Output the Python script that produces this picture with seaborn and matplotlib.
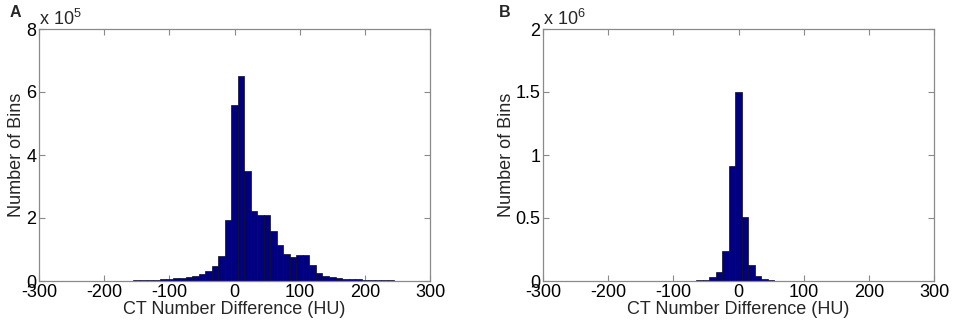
import numpy as np
import pandas as pd
import matplotlib
matplotlib.use("Agg")
import matplotlib.pyplot as plt
import seaborn as sns

# ---------------- data (bin centres in HU, counts) ----------------
centers_a = [-200, -190, -180, -170, -160, -150, -140, -130, -120, -110,
             -100, -90, -80, -70, -60, -50, -40, -30, -20, -10,
             0, 10, 20, 30, 40, 50, 60, 70, 80, 90,
             100, 110, 120, 130, 140, 150, 160, 170, 180, 190,
             200, 210, 220, 230, 240, 250]
counts_a = [400, 500, 600, 800, 1000, 2000, 2500, 3000, 4000, 5000,
            6500, 8000, 10000, 13000, 16000, 22000, 32000, 47000, 78000, 193000,
            560000, 651000, 349000, 222000, 209000, 209000, 159000, 114000, 87000, 76000,
            82000, 84000, 52000, 25000, 16000, 12000, 9000, 7000, 6000, 5000,
            4500, 4000, 3500, 2500, 2000, 1500]

centers_b = [-70, -60, -50, -40, -30, -20, -10, 0, 10, 20, 30, 40, 50, 60]
counts_b = [1500, 5000, 11000, 32000, 72000, 238000, 914000, 1500000,
            511000, 130000, 42000, 13000, 4000, 1500]

xticks = [-300, -200, -100, 0, 100, 200, 300]
yticks_a = [0, 2e5, 4e5, 6e5, 8e5]
ytick_labels_a = ["0", "2", "4", "6", "8"]
yticks_b = [0, 0.5e6, 1e6, 1.5e6, 2e6]
ytick_labels_b = ["0", "0.5", "1", "1.5", "2"]
panel_labels = ["A", "B"]
exponents = ["5", "6"]
xlabel = "CT Number Difference (HU)"
ylabel = "Number of Bins"

# ---------------- style ----------------
sns.set_theme(style="white")
plt.rcParams["font.family"] = ["Liberation Sans", "DejaVu Sans"]
plt.rcParams["mathtext.fontset"] = "custom"
plt.rcParams["mathtext.rm"] = "Liberation Sans"
plt.rcParams["mathtext.it"] = "Liberation Sans"
FS = 13
SPINE = "#8a8a8a"
BAR = "#000080"

fig = plt.figure(figsize=(9.57, 3.24), dpi=100)
H = 324.0
ax_a = fig.add_axes([39 / 957, 1 - 281 / H, (430 - 39) / 957, (281 - 29) / H])
ax_b = fig.add_axes([543 / 957, 1 - 281 / H, (934 - 543) / 957, (281 - 29) / H])

panels = [
    (ax_a, centers_a, counts_a, yticks_a, ytick_labels_a, 8e5, 25),
    (ax_b, centers_b, counts_b, yticks_b, ytick_labels_b, 2e6, 515),
]

for i, (ax, cen, cnt, yt, ytl, ymax, ylab_x) in enumerate(panels):
    df = pd.DataFrame({"hu": np.asarray(cen, float), "n": np.asarray(cnt, float)})
    sns.histplot(data=df, x="hu", weights="n", binwidth=10,
                 binrange=(min(cen) - 5, max(cen) + 5), ax=ax,
                 color=BAR, edgecolor="#0a0a28", linewidth=0.5, alpha=1.0)
    ax.set_xlim(-300, 300)
    ax.set_ylim(0, ymax)
    ax.set_xticks(xticks)
    ax.set_xticklabels([str(t) for t in xticks], fontsize=FS)
    ax.set_yticks(yt)
    ax.set_yticklabels(ytl, fontsize=FS)
    ax.tick_params(direction="in", length=4, width=0.8, color=SPINE,
                   top=True, right=True, bottom=True, left=True,
                   pad=2, labelcolor="black")
    for s in ax.spines.values():
        s.set_color(SPINE)
        s.set_linewidth(0.9)
    ax.set_xlabel(xlabel, fontsize=FS)
    ax.set_ylabel(ylabel, fontsize=FS)
    ax.xaxis.set_label_coords(0.5, (281 - 301) / 252)
    x0 = 39 if i == 0 else 543
    ax.yaxis.set_label_coords((ylab_x - x0) / 391, 0.5)
    ax.text(0.0, 1.0, r"x 10$^{%s}$" % exponents[i], transform=ax.transAxes,
            ha="left", va="bottom", fontsize=FS)
    ax.grid(False)

fig.text(10 / 957, 1 - 17 / H, panel_labels[0], fontsize=11.5, fontweight="bold",
         ha="left", va="baseline")
fig.text(499 / 957, 1 - 17 / H, panel_labels[1], fontsize=11.5, fontweight="bold",
         ha="left", va="baseline")

fig.savefig("out.png", dpi=100)
